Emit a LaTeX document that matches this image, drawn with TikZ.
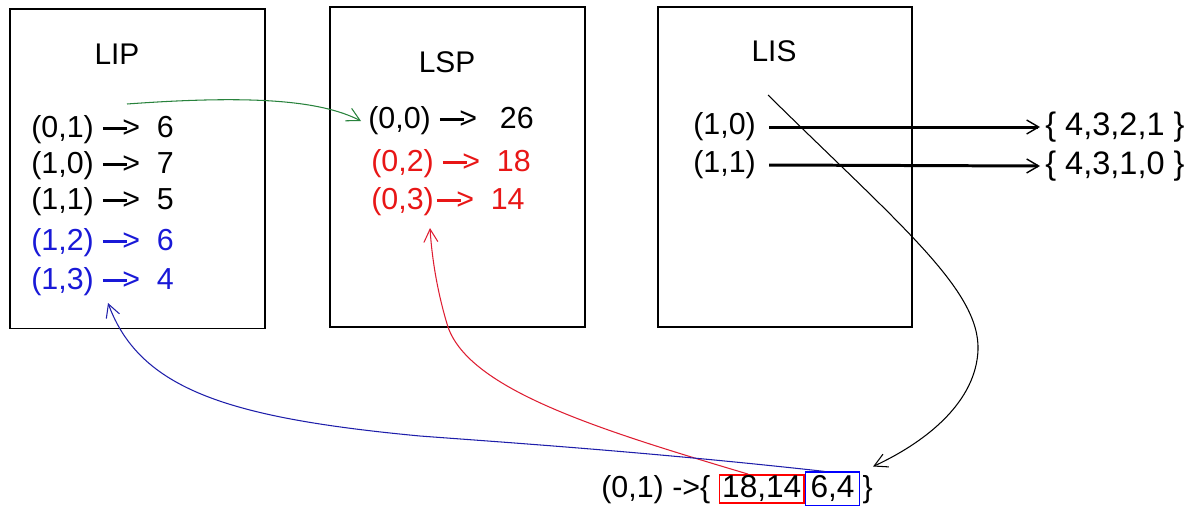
\documentclass[tikz,border=0pt]{standalone}
\usepackage{fontspec}
\setmainfont{Liberation Sans}
\usetikzlibrary{positioning,arrows.meta,calc}

\definecolor{lipblue}{RGB}{25,25,215}
\definecolor{lspred}{RGB}{232,22,22}
\definecolor{curvegreen}{RGB}{40,130,60}
\definecolor{curveblue}{RGB}{30,30,170}
\definecolor{curvered}{RGB}{222,30,50}

\newcommand{\pairarrow}{\kern0.3em\rule[0.27em]{0.78em}{0.1em}\kern-0.14em>\kern0.55em}

\begin{document}
\begin{tikzpicture}[
    x=0.02cm,
    y=-0.02cm,
    font=\fontsize{17.3pt}{20pt}\selectfont,
    list/.style={
        draw,
        line width=1.1pt,
        minimum width=5.1cm,
        minimum height=6.4cm,
        inner sep=0pt
    },
    title/.style={inner sep=0pt, font=\fontsize{17pt}{20pt}\selectfont},
    entry/.style={anchor=west, inner sep=0pt},
    setlist/.style={entry, font=\fontsize{18.5pt}{21pt}\selectfont},
    setpart/.style={inner ysep=0pt, inner xsep=1.6pt, minimum height=0.56cm, line width=0.8pt,
        font=\fontsize{18pt}{21pt}\selectfont},
    curve/.style={-{Straight Barb[length=2.6mm, width=2.8mm]}, line width=0.6pt},
    setarrow/.style={-{Straight Barb[length=2.4mm, width=2.8mm, line width=0.8pt]}, line width=1.7pt}
]
\useasboundingbox (0,0) rectangle (1202,508);

% ============================================================
% LISTY
% ============================================================
\node[list] (lipbox) at (137.5,168.5) {};
\node[list] (lspbox) at (457.5,167) {};
\node[list, minimum width=5.08cm] (lisbox) at (785,167) {};

\node[title] (liptitle) at (117,54) {LIP};
\node[title] (lsptitle) at (447,62) {LSP};
\node[title] (listitle) at (774,51) {LIS};

% ============================================================
% LIP
% ============================================================
\node[entry] (lip01) at (31,130) {(0,1)\pairarrow 6};
\node[entry] (lip10) at (31,166) {(1,0)\pairarrow 7};
\node[entry] (lip11) at (31,202) {(1,1)\pairarrow 5};
\node[entry, text=lipblue] (lip12) at (31,243) {(1,2)\pairarrow 6};
\node[entry, text=lipblue] (lip13) at (31,282) {(1,3)\pairarrow 4};

% ============================================================
% LSP
% ============================================================
\node[entry] (lsp00) at (368,121) {(0,0)\pairarrow\kern0.2em 26};
\node[entry, text=lspred] (lsp02) at (371,164) {(0,2)\pairarrow 18};
\node[entry, text=lspred] (lsp03) at (371,202) {(0,3)\kern-0.2em\pairarrow 14};

% ============================================================
% LIS
% ============================================================
\node[entry] (lis10) at (693,127) {(1,0)};
\node[entry] (lis11) at (693,165) {(1,1)};
\node[setlist] (set10) at (1045,127) {\{ 4,3,2,1 \}};
\node[setlist] (set11) at (1045,166) {\{ 4,3,1,0 \}};

\draw[setarrow] ([xshift=0.26cm]lis10.east) -- ([xshift=-0.1cm]set10.west);
\draw[setarrow] ([xshift=0.26cm]lis11.east) -- ([xshift=-0.1cm]set11.west);

% ============================================================
% WYNIK
% ============================================================
\node[entry] (res) at (601,490) {(0,1) ->\{};
\node[setpart, draw=red, base right=0.16cm of res] (redset) {18,14};
\node[setpart, draw=blue, minimum height=0.67cm, minimum width=1.08cm, base right=0pt of redset] (blueset) {6,4};
\node[inner sep=0pt, base right=0.04cm of blueset] (closeb) {\}};

% ============================================================
% LUKI
% ============================================================
\coordinate (gstart) at (127,104);
\coordinate (lisstart) at (768,95);
\coordinate (redtip) at (430,228);
\coordinate (bluetip) at (108,303);

\draw[curve, curvegreen] (gstart) .. controls (250,95) and (320,100) .. ([xshift=-0.14cm]lsp00.west);
\draw[curve] (lisstart) .. controls (900,225) and (980,290) .. (978,350)
    .. controls (976,400) and (930,440) .. ([yshift=0.18cm]closeb.north east);
\draw[curve, curvered] ([xshift=-0.27cm]redset.north) .. controls (600,430) and (470,390) .. (448,327)
    .. controls (438,295) and (432,260) .. (redtip);
\draw[curve, curveblue] ([xshift=-0.16cm]blueset.north) .. controls (650,452) and (500,442) .. (420,436)
    .. controls (230,418) and (140,390) .. (bluetip);

\end{tikzpicture}
\end{document}
